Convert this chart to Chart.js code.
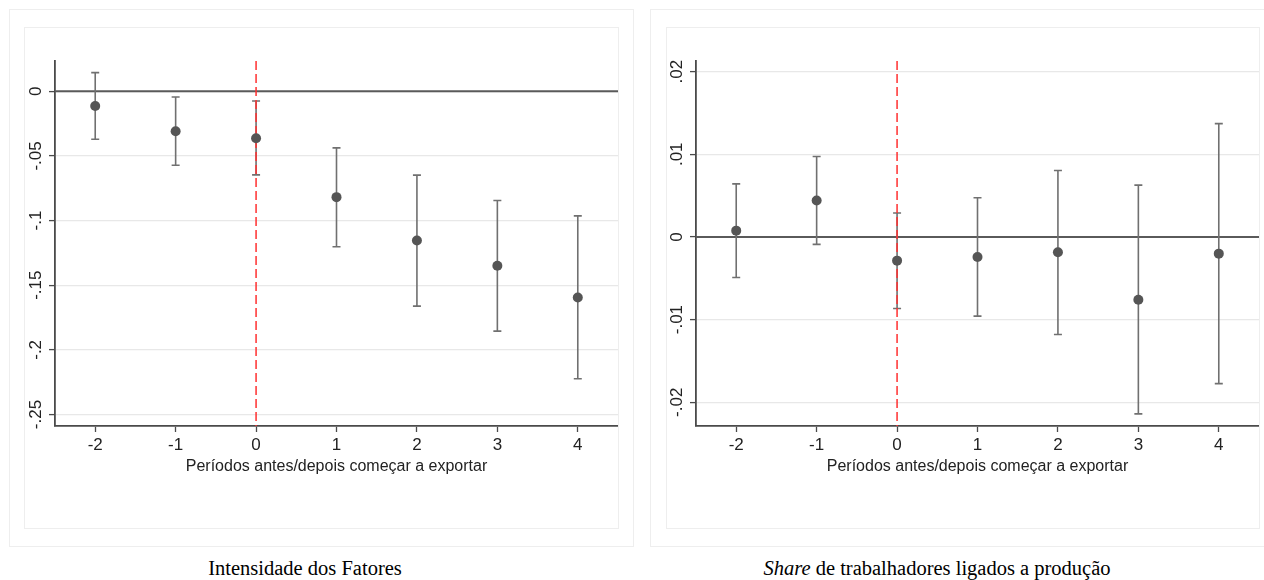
<!DOCTYPE html>
<html>
<head>
<meta charset="utf-8">
<script src="https://cdn.jsdelivr.net/npm/chart.js@4.4.1/dist/chart.umd.min.js"></script>
<style>
    body { margin: 0; background: #fff; width: 1264px; height: 580px; position: relative; overflow: hidden; }
    .outer { position: absolute; border: 1.5px solid #eeeeee; box-sizing: border-box; }
    .inner { position: absolute; border: 1.5px solid #eeeeee; box-sizing: border-box; }
    .cv { position: absolute; }
    .caption { position: absolute; top: 557px; font-family: "Liberation Serif", "Times New Roman", serif; font-size: 20.5px; color: #000; transform: translateX(-50%); white-space: nowrap; }
</style>
</head>
<body>
<div class="outer" style="left:9px; top:9px; width:625px; height:538px;"></div>
<div class="inner" style="left:24px; top:27px; width:595px; height:502px;"></div>
<div class="outer" style="left:650px; top:9px; width:630px; height:538px;"></div>
<div class="inner" style="left:666px; top:27px; width:594px; height:502px;"></div>

<div class="cv" style="left:24px; top:28px; width:594px; height:500px;"><canvas id="leftChart"></canvas></div>
<div class="cv" style="left:666px; top:28px; width:593px; height:500px;"><canvas id="rightChart"></canvas></div>

<div class="caption" style="left:305px;">Intensidade dos Fatores</div>
<div class="caption" style="left:937px;"><i>Share</i> de trabalhadores ligados a produção</div>

<script>
// periods relative to start of exporting
const periods = [-2, -1, 0, 1, 2, 3, 4];
const xTicks = [-2, -1, 0, 1, 2, 3, 4];
const xTitle = "Períodos antes/depois começar a exportar";

// left panel: Intensidade dos Fatores
const leftCoef  = [-0.0114, -0.0309, -0.0363, -0.0819, -0.1154, -0.1350, -0.1595];
const leftUpper = [ 0.0144, -0.0044, -0.0075, -0.0438, -0.0649, -0.0845, -0.0964];
const leftLower = [-0.0371, -0.0572, -0.0647, -0.1203, -0.1662, -0.1855, -0.2223];
const leftYTicks = [0, -0.05, -0.1, -0.15, -0.2, -0.25];
const leftYLabels = ["0", "-.05", "-.1", "-.15", "-.2", "-.25"];

// right panel: Share de trabalhadores ligados a produção
const rightCoef  = [ 0.00076,  0.0044, -0.00287, -0.00243, -0.00186, -0.0076, -0.00202];
const rightUpper = [ 0.00642,  0.00973, 0.0029,   0.00473,  0.00804,  0.00626, 0.0137];
const rightLower = [-0.0049,  -0.0009, -0.00865, -0.00958, -0.0118,  -0.0214, -0.01775];
const rightYTicks = [0.02, 0.01, 0, -0.01, -0.02];
const rightYLabels = [".02", ".01", "0", "-.01", "-.02"];

const axisColor = "#4a4a4a";
const tickFont = "17px 'Liberation Sans', Arial, sans-serif";

// error bars, zero line and the dashed line at period 0
const refLines = {
    id: "refLines",
    beforeDatasetsDraw(chart, args, opts) {
        const { ctx, chartArea, scales: { x, y } } = chart;
        ctx.save();
        // zero line
        ctx.strokeStyle = "#5a5a5a";
        ctx.lineWidth = 2;
        ctx.beginPath();
        ctx.moveTo(chartArea.left, y.getPixelForValue(0));
        ctx.lineTo(chartArea.right, y.getPixelForValue(0));
        ctx.stroke();

        // error bars
        ctx.strokeStyle = "#707070";
        ctx.lineWidth = 1.6;
        opts.lower.forEach((lo, i) => {
            const px = x.getPixelForValue(opts.periods[i]);
            const yl = y.getPixelForValue(lo);
            const yu = y.getPixelForValue(opts.upper[i]);
            ctx.beginPath();
            ctx.moveTo(px, yl);
            ctx.lineTo(px, yu);
            ctx.moveTo(px - 4, yl);
            ctx.lineTo(px + 4, yl);
            ctx.moveTo(px - 4, yu);
            ctx.lineTo(px + 4, yu);
            ctx.stroke();
        });

        // red dashed line
        ctx.strokeStyle = "#ff3030";
        ctx.lineWidth = 1.5;
        ctx.setLineDash([9, 4]);
        ctx.beginPath();
        ctx.moveTo(x.getPixelForValue(0), chartArea.top);
        ctx.lineTo(x.getPixelForValue(0), chartArea.bottom);
        ctx.stroke();
        ctx.restore();
    },
    afterDraw(chart, args, opts) {
        const { ctx, chartArea, scales: { x, y } } = chart;
        ctx.save();
        ctx.fillStyle = "#222";
        ctx.font = tickFont;
        ctx.textAlign = "center";
        ctx.textBaseline = "middle";
        // rotated y tick labels
        opts.yTicks.forEach((v, i) => {
            ctx.save();
            ctx.translate(opts.labelX, y.getPixelForValue(v));
            ctx.rotate(-Math.PI / 2);
            ctx.fillText(opts.yLabels[i], 0, 0);
            ctx.restore();
        });
        // x tick labels
        xTicks.forEach(v => {
            ctx.fillText(String(v), x.getPixelForValue(v), chartArea.bottom + 19);
        });
        ctx.restore();
    }
};

function makeChart(id, coef, upper, lower, yTicks, yLabels, yMin, yMax, axisWidth, labelX) {
    const ctx = document.getElementById(id).getContext("2d");
    return new Chart(ctx, {
        type: "scatter",
        data: {
            datasets: [
                {
                    data: periods.map((p, i) => ({ x: p, y: coef[i] })),
                    pointRadius: 5,
                    pointBackgroundColor: "#555555",
                    pointBorderWidth: 0,
                },
            ],
        },
        options: {
            responsive: true,
            maintainAspectRatio: false,
            animation: false,
            layout: { autoPadding: false, padding: { top: 33, right: 0, left: 0, bottom: 0 } },
            plugins: {
                legend: { display: false },
                tooltip: { enabled: false },
                refLines: { periods, upper, lower, yTicks, yLabels, labelX },
            },
            scales: {
                x: {
                    type: "linear",
                    min: -2.5,
                    max: 4.5,
                    afterBuildTicks: (scale) => { scale.ticks = xTicks.map(v => ({ value: v })); },
                    afterFit: (scale) => { scale.height = 102; },
                    grid: { drawOnChartArea: false, drawTicks: true, tickLength: 6, tickColor: axisColor, tickWidth: 1.3 },
                    border: { display: true, color: axisColor, width: 1.8 },
                    ticks: { display: false },
                    title: {
                        display: true,
                        text: xTitle,
                        color: "#222",
                        font: { family: "'Liberation Sans', Arial, sans-serif", size: 16 },
                        padding: { top: 0, bottom: 52 },
                    },
                },
                y: {
                    type: "linear",
                    min: yMin,
                    max: yMax,
                    afterBuildTicks: (scale) => { scale.ticks = yTicks.map(v => ({ value: v })); },
                    afterFit: (scale) => { scale.width = axisWidth; },
                    grid: { color: "#e8e8e8", lineWidth: 1.2, drawTicks: true, tickLength: 6, tickColor: axisColor, tickWidth: 1.3 },
                    border: { display: true, color: axisColor, width: 1.8 },
                    ticks: { display: false },
                },
            },
        },
        plugins: [refLines],
    });
}

makeChart("leftChart", leftCoef, leftUpper, leftLower, leftYTicks, leftYLabels, -0.2589, 0.0234, 31, 12);
makeChart("rightChart", rightCoef, rightUpper, rightLower, rightYTicks, rightYLabels, -0.02287, 0.02128, 30, 11);
</script>
</body>
</html>
